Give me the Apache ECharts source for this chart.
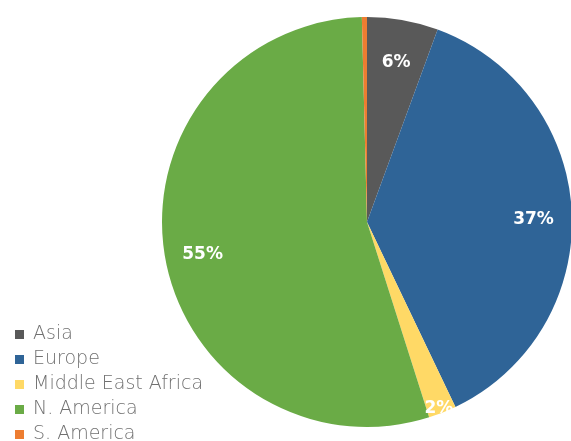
<!DOCTYPE html>
<html>
<head>
<meta charset="utf-8">
<script src="https://cdn.jsdelivr.net/npm/echarts@6/dist/echarts.min.js"></script>
<style>
  html, body { margin: 0; padding: 0; background: #fff; }
  #chart { width: 571px; height: 441px; }
</style>
</head>
<body>
<div id="chart"></div>
<script>
var regions = ['Asia', 'Europe', 'Middle East Africa', 'N. America', 'S. America'];
var shares = [5.6, 37.3, 2.2, 54.5, 0.4];
var colors = ['#595959', '#2f6497', '#ffd966', '#6aab46', '#ed7d31'];

var cx = 367, cy = 222, radius = 205;

var myChart = echarts.init(document.getElementById('chart'));
var option = {
    animation: false,
    color: colors,
    legend: {
        orient: 'vertical',
        left: 15,
        top: 325,
        height: 200,
        padding: 0,
        itemWidth: 9,
        itemHeight: 9,
        itemGap: 6,
        icon: 'rect',
        textStyle: {
            color: '#707070',
            fontFamily: 'DejaVu Sans',
            fontWeight: 200,
            fontSize: 19,
            lineHeight: 19,
            padding: [0, 0, 0, 4]
        },
        data: regions
    },
    series: [
        {
            name: 'Share',
            type: 'pie',
            radius: [0, radius],
            center: [cx, cy],
            startAngle: 90,
            clockwise: true,
            label: {
                show: true,
                position: 'inside',
                color: '#fff',
                fontFamily: 'DejaVu Sans',
                fontWeight: 'bold',
                fontSize: 17,
                formatter: function (p) {
                    return p.value < 1 ? '' : Math.round(p.value) + '%';
                }
            },
            labelLine: { show: false },
            labelLayout: function (p) {
                // push inside labels outward from the mid radius
                var lx = p.labelRect.x + p.labelRect.width / 2;
                var ly = p.labelRect.y + p.labelRect.height / 2;
                var k = shares[p.dataIndex] < 3 ? 1.85 : 1.58;
                return { dx: (lx - cx) * (k - 1), dy: (ly - cy) * (k - 1) + 5 };
            },
            emphasis: { disabled: true },
            data: regions.map(function (r, i) {
                return { name: r, value: shares[i] };
            })
        }
    ]
};
myChart.setOption(option);
</script>
</body>
</html>
